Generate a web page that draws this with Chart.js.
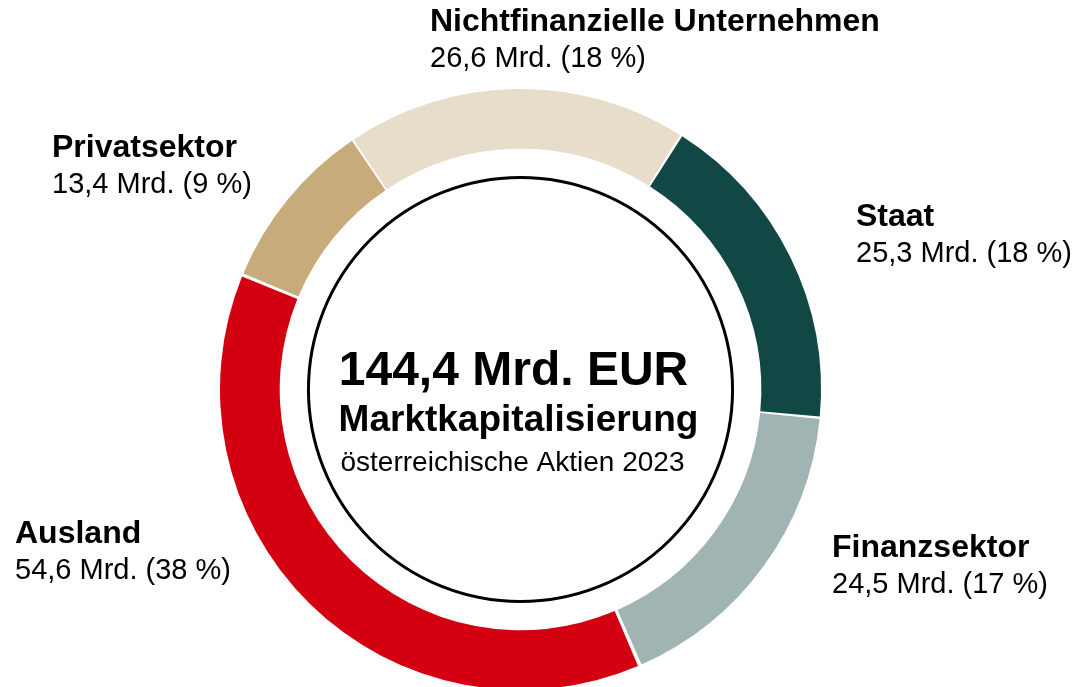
<!DOCTYPE html>
<html>
<head>
<meta charset="utf-8">
<script src="https://cdn.jsdelivr.net/npm/chart.js@4.4.1/dist/chart.umd.min.js"></script>
<style>
  html, body { margin: 0; padding: 0; background: #ffffff; overflow: hidden; }
  #wrap { width: 1076px; height: 687px; position: relative; overflow: hidden; }
</style>
</head>
<body>
<div id="wrap"><canvas id="c" width="1076" height="700"></canvas></div>
<script>
// ---- data ----
const categories = ['Nichtfinanzielle Unternehmen', 'Staat', 'Finanzsektor', 'Ausland', 'Privatsektor'];
const values = [26.6, 25.3, 24.5, 54.6, 13.4];            // Mrd. EUR
const percents = [18, 18, 17, 38, 9];                      // % share
const totalLabel = '144,4 Mrd. EUR';
const centerTitle = 'Marktkapitalisierung';
const centerSub = 'österreichische Aktien 2023';

// ---- styles ----
const colors = ['#E8DDCB', '#114845', '#A0B5B3', '#D20010', '#C8AB7B'];
// label anchor (left x, baseline y of bold line)
const labelPos = [
  [430, 31], [856, 226], [832, 557], [15, 543], [52, 157]
];
const FONT = '"Liberation Sans", Arial, Helvetica, sans-serif';

function fmt(v) { return v.toFixed(1).replace('.', ','); }

const labelsPlugin = {
  id: 'labelsPlugin',
  afterDraw(chart) {
    const ctx = chart.ctx;
    const meta = chart.getDatasetMeta(0);
    const arc = meta.data[0];
    const cx = arc.x, cy = arc.y;
    ctx.save();
    // inner black circle
    ctx.beginPath();
    ctx.arc(cx, cy, arc.innerRadius * 0.888, 0, Math.PI * 2);
    ctx.lineWidth = 3;
    ctx.strokeStyle = '#000000';
    ctx.stroke();

    // center text
    ctx.fillStyle = '#000000';
    ctx.textAlign = 'center';
    ctx.textBaseline = 'alphabetic';
    ctx.font = 'bold 48px ' + FONT;
    ctx.fillText(totalLabel, cx - 7, 385);
    ctx.font = 'bold 37px ' + FONT;
    ctx.fillText(centerTitle, cx - 2, 431);
    ctx.font = '28px ' + FONT;
    ctx.fillText(centerSub, cx - 8, 471);

    // category labels
    ctx.textAlign = 'left';
    categories.forEach((cat, i) => {
      const [x, y] = labelPos[i];
      ctx.font = 'bold 32px ' + FONT;
      ctx.fillText(cat, x, y);
      ctx.font = '29px ' + FONT;
      ctx.fillText(fmt(values[i]) + ' Mrd. (' + percents[i] + ' %)', x, y + 36);
    });
    ctx.restore();
  }
};

new Chart(document.getElementById('c'), {
  type: 'doughnut',
  data: {
    labels: categories,
    datasets: [{
      data: values,
      backgroundColor: colors,
      borderWidth: 0,
      spacing: 4
    }]
  },
  options: {
    responsive: false,
    animation: false,
    rotation: -34,
    cutout: '80%',
    layout: { padding: { left: 220, right: 255, top: 89, bottom: 10 } },
    plugins: { legend: { display: false }, tooltip: { enabled: false } }
  },
  plugins: [labelsPlugin]
});
</script>
</body>
</html>
